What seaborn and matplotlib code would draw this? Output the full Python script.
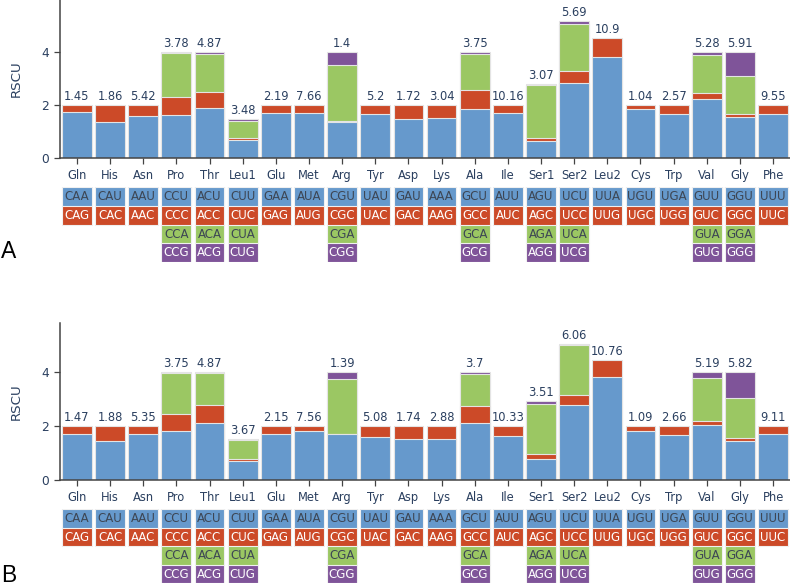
import matplotlib
matplotlib.use("Agg")
import matplotlib.pyplot as plt
import seaborn as sns
import numpy as np

sns.set_style("white")
plt.rcParams["font.family"] = ["DejaVu Sans"]

N = np.nan
amino_acids = ["Gln", "His", "Asn", "Pro", "Thr", "Leu1", "Glu", "Met", "Arg", "Tyr", "Asp",
               "Lys", "Ala", "Ile", "Ser1", "Ser2", "Leu2", "Cys", "Trp", "Val", "Gly", "Phe"]

codon_row1 = ["CAA", "CAU", "AAU", "CCU", "ACU", "CUU", "GAA", "AUA", "CGU", "UAU", "GAU",
              "AAA", "GCU", "AUU", "AGU", "UCU", "UUA", "UGU", "UGA", "GUU", "GGU", "UUU"]
codon_row2 = ["CAG", "CAC", "AAC", "CCC", "ACC", "CUC", "GAG", "AUG", "CGC", "UAC", "GAC",
              "AAG", "GCC", "AUC", "AGC", "UCC", "UUG", "UGC", "UGG", "GUC", "GGC", "UUC"]
codon_row3 = ["", "", "", "CCA", "ACA", "CUA", "", "", "CGA", "", "",
              "", "GCA", "", "AGA", "UCA", "", "", "", "GUA", "GGA", ""]
codon_row4 = ["", "", "", "CCG", "ACG", "CUG", "", "", "CGG", "", "",
              "", "GCG", "", "AGG", "UCG", "", "", "", "GUG", "GGG", ""]

# Panel A RSCU per codon (rows 1-4)
a_rscu1 = [1.75, 1.37, 1.60, 1.61, 1.91, 0.68, 1.72, 1.72, 1.38, 1.65, 1.47,
           1.53, 1.85, 1.71, 0.66, 2.84, 3.81, 1.84, 1.65, 2.22, 1.56, 1.68]
a_rscu2 = [0.25, 0.63, 0.40, 0.71, 0.58, 0.08, 0.28, 0.28, 0.01, 0.35, 0.53,
           0.47, 0.71, 0.29, 0.10, 0.46, 0.72, 0.16, 0.35, 0.25, 0.10, 0.32]
a_rscu3 = [N, N, N, 1.66, 1.43, 0.63, N, N, 2.13, N, N,
           N, 1.36, N, 2.00, 1.78, N, N, N, 1.42, 1.43, N]
a_rscu4 = [N, N, N, 0.02, 0.08, 0.07, N, N, 0.48, N, N,
           N, 0.08, N, 0.04, 0.10, N, N, N, 0.11, 0.91, N]
a_labels = ["1.45", "1.86", "5.42", "3.78", "4.87", "3.48", "2.19", "7.66", "1.4", "5.2", "1.72",
            "3.04", "3.75", "10.16", "3.07", "5.69", "10.9", "1.04", "2.57", "5.28", "5.91", "9.55"]

# Panel B RSCU per codon (rows 1-4)
b_rscu1 = [1.69, 1.44, 1.69, 1.83, 2.11, 0.69, 1.71, 1.80, 1.71, 1.59, 1.51,
           1.51, 2.10, 1.64, 0.79, 2.77, 3.82, 1.80, 1.65, 2.05, 1.46, 1.70]
b_rscu2 = [0.31, 0.56, 0.31, 0.63, 0.69, 0.09, 0.29, 0.20, 0.01, 0.41, 0.49,
           0.49, 0.66, 0.36, 0.15, 0.37, 0.63, 0.20, 0.35, 0.15, 0.08, 0.30]
b_rscu3 = [N, N, N, 1.51, 1.17, 0.70, N, N, 2.04, N, N,
           N, 1.19, N, 1.87, 1.87, N, N, N, 1.60, 1.50, N]
b_rscu4 = [N, N, N, 0.03, 0.03, 0.05, N, N, 0.24, N, N,
           N, 0.05, N, 0.12, 0.05, N, N, N, 0.20, 0.96, N]
b_labels = ["1.47", "1.88", "5.35", "3.75", "4.87", "3.67", "2.15", "7.56", "1.39", "5.08", "1.74",
            "2.88", "3.7", "10.33", "3.51", "6.06", "10.76", "1.09", "2.66", "5.19", "5.82", "9.11"]

colors = ["#6699cc", "#cc4a28", "#9bc763", "#7f5499"]
text_colors = ["#3d4654", "white", "#3d4654", "white"]
label_color = "#2a3f5f"

W, H = 790, 585
fig = plt.figure(figsize=(W / 100, H / 100), dpi=100)

def fr(left, top, right, bottom):
    return [left / W, 1 - bottom / H, (right - left) / W, (bottom - top) / H]

XLIM = (-0.51, 21.51)

def draw_panel(ax, tab, layers, labels, ytop):
    layers = [np.array(l, dtype=float) for l in layers]
    cums = []
    run = np.zeros(len(amino_acids))
    for l in layers:
        run = run + np.nan_to_num(l)
        c = run.copy()
        c[np.isnan(l)] = np.nan
        cums.append(c)
    for k in [3, 2, 1, 0]:
        sns.barplot(x=amino_acids, y=cums[k], order=amino_acids, color=colors[k],
                    saturation=1, width=0.9, edgecolor="#e4e4e4", linewidth=0.8,
                    errorbar=None, ax=ax)
    totals = run
    for i, (t, lab) in enumerate(zip(totals, labels)):
        ax.annotate(lab, (i, t), xytext=(0, 3.6), textcoords="offset points",
                    ha="center", va="baseline", fontsize=8.3, color=label_color)
    ax.set_xlim(*XLIM)
    ax.set_ylim(0, ytop)
    ax.set_yticks([0, 2, 4])
    for s in ["top", "right"]:
        ax.spines[s].set_visible(False)
    for s in ["left", "bottom"]:
        ax.spines[s].set_color("#444444")
        ax.spines[s].set_linewidth(1.1)
    ax.tick_params(axis="both", which="major", direction="out", length=4, width=0.9,
                   color="#444444", labelcolor=label_color, labelsize=8.3, pad=4,
                   bottom=True, left=True)
    ax.tick_params(axis="y", labelsize=8.8)
    ax.set_xlabel("")
    ax.set_ylabel("RSCU", fontsize=9.6, color=label_color)
    ax.yaxis.set_label_coords(-0.051, 0.5)

    rows = [codon_row1, codon_row2, codon_row3, codon_row4]
    for r in [3, 2, 1, 0]:
        h = [float(r + 1) if c else np.nan for c in rows[r]]
        sns.barplot(x=amino_acids, y=h, order=amino_acids, color=colors[r],
                    saturation=1, width=0.9, edgecolor="#f0f0f0", linewidth=0.8,
                    errorbar=None, ax=tab)
    for r in range(4):
        for i, c in enumerate(rows[r]):
            if c:
                tab.text(i, r + 0.52, c, ha="center", va="center", fontsize=8.5,
                         color=text_colors[r])
    tab.set_xlim(*XLIM)
    tab.set_ylim(4, 0)
    tab.axis("off")

axA = fig.add_axes(fr(60, 0, 790, 158))
tabA = fig.add_axes(fr(60, 187, 790, 262))
draw_panel(axA, tabA, [a_rscu1, a_rscu2, a_rscu3, a_rscu4], a_labels, 5.98)

axB = fig.add_axes(fr(60, 323, 790, 479.7))
tabB = fig.add_axes(fr(60, 509, 790, 583))
draw_panel(axB, tabB, [b_rscu1, b_rscu2, b_rscu3, b_rscu4], b_labels, 5.84)

fig.text(1 / W, 1 - 252 / H, "A", fontsize=16.5, color="black", va="center", ha="left",
         family=["Liberation Sans", "DejaVu Sans"])
fig.text(1 / W, 1 - 575 / H, "B", fontsize=16.5, color="black", va="center", ha="left",
         family=["Liberation Sans", "DejaVu Sans"])

fig.savefig("out.png", dpi=100)
